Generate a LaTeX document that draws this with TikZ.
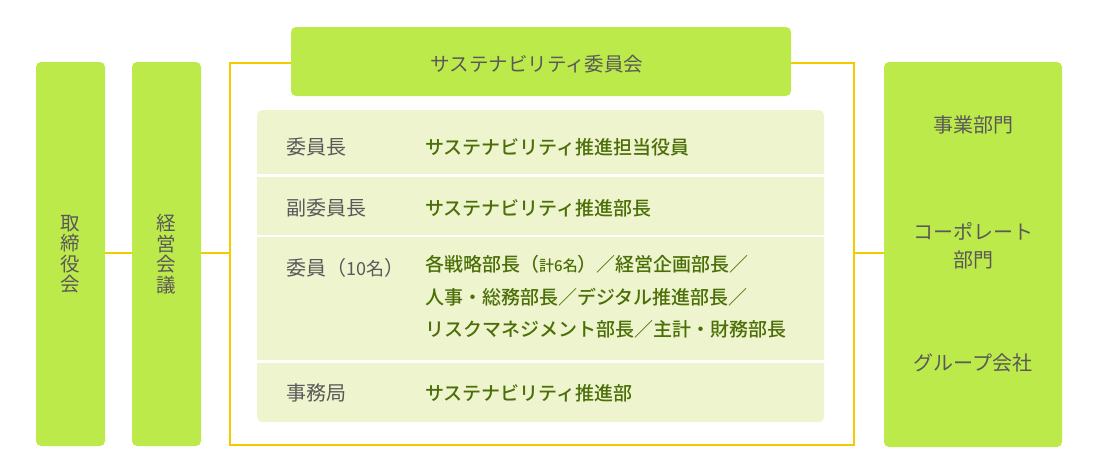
\documentclass[tikz,border=0pt]{standalone}
\usepackage{fontspec}
\newfontfamily\jp{Noto Sans CJK JP}
\newfontfamily\jpm{Noto Sans CJK JP Medium}
\definecolor{lime}{HTML}{BDEA4B}
\definecolor{tablebg}{HTML}{EEF5CE}
\definecolor{frameyel}{HTML}{F5CB00}
\definecolor{graytext}{HTML}{595959}
\definecolor{valgreen}{HTML}{4B6E07}
\tikzset{
  limebox/.style={rectangle, rounded corners=5pt, fill=lime, draw=none, inner sep=0pt},
  conn/.style={draw=frameyel, line width=2pt},
  lbl/.style={anchor=west, inner sep=0pt, text=graytext, font=\jp\fontsize{20}{24}\selectfont},
  val/.style={anchor=west, inner sep=0pt, text=valgreen, font=\jpm\fontsize{19}{32.5}\selectfont, align=left},
  boxtext/.style={inner sep=0pt, text=graytext, align=center},
}
\begin{document}
\begin{tikzpicture}[x=1pt,y=-1pt]
\useasboundingbox (0,0) rectangle (1100,475);
% frame
\node[rectangle, draw=frameyel, line width=2pt, minimum width=624pt, minimum height=382pt, inner sep=0pt] (frame) at (542,254) {};
% left boxes
\node[limebox, minimum width=69pt, minimum height=384pt] (board) at (70.5,254) {};
\node[limebox, minimum width=69pt, minimum height=384pt] (mgmt) at (166.5,254) {};
\node[boxtext, font=\jp\fontsize{19.5}{20.5}\selectfont] (boardtxt) at (70.5,254) {取\\締\\役\\会};
\node[boxtext, font=\jp\fontsize{19.5}{20.5}\selectfont] (mgmttxt) at (166.5,254) {経\\営\\会\\議};
% right box
\node[limebox, minimum width=178pt, minimum height=385pt] (right) at (973,254.5) {};
\node[boxtext, font=\jp\fontsize{20}{28}\selectfont] (biz) at (973,125) {事業部門};
\node[boxtext, font=\jp\fontsize{20}{28}\selectfont] (corp) at (973,246) {コーポレート\\部門};
\node[boxtext, font=\jp\fontsize{20}{28}\selectfont] (group) at (973,363) {グループ会社};
% connectors
\draw[conn] (board.east |- 0,253) -- (mgmt.west |- 0,253);
\draw[conn] (mgmt.east |- 0,253) -- (frame.west |- 0,253);
\draw[conn] (frame.east |- 0,253) -- (right.west |- 0,253);
% title
\node[limebox, minimum width=500pt, minimum height=69pt] (title) at (541,61.5) {};
\node[boxtext, font=\jp\fontsize{19.5}{22}\selectfont] (titletxt) at (537,64) {サステナビリティ委員会};
% table
\node[rectangle, rounded corners=5pt, fill=tablebg, minimum width=567pt, minimum height=312pt, inner sep=0pt] (table) at (540.5,266) {};
\coordinate (s1) at (257,175.5);
\coordinate (s2) at (257,236);
\coordinate (s3) at (257,361.5);
\draw[white, line width=2.5pt] (s1) -- (s1 -| table.east);
\draw[white, line width=2.5pt] (s2) -- (s2 -| table.east);
\draw[white, line width=2.5pt] (s3) -- (s3 -| table.east);
% rows
\node[lbl] (l1) at (286,147) {委員長};
\node[val] (v1) at (425,147) {サステナビリティ推進担当役員};
\node[lbl] (l2) at (286,208) {副委員長};
\node[val] (v2) at (425,208) {サステナビリティ推進部長};
\node[lbl] (l3) at (286,268) {委員（{\fontsize{18}{20}\selectfont 10名}）};
\node[val, anchor=north west] (v3) at (425,255) {各戦略部長（{\fontsize{15}{18}\selectfont 計6名}）／経営企画部長／\\人事・総務部長／デジタル推進部長／\\リスクマネジメント部長／主計・財務部長};
\node[lbl] (l4) at (286,393) {事務局};
\node[val] (v4) at (425,393) {サステナビリティ推進部};
\end{tikzpicture}
\end{document}
